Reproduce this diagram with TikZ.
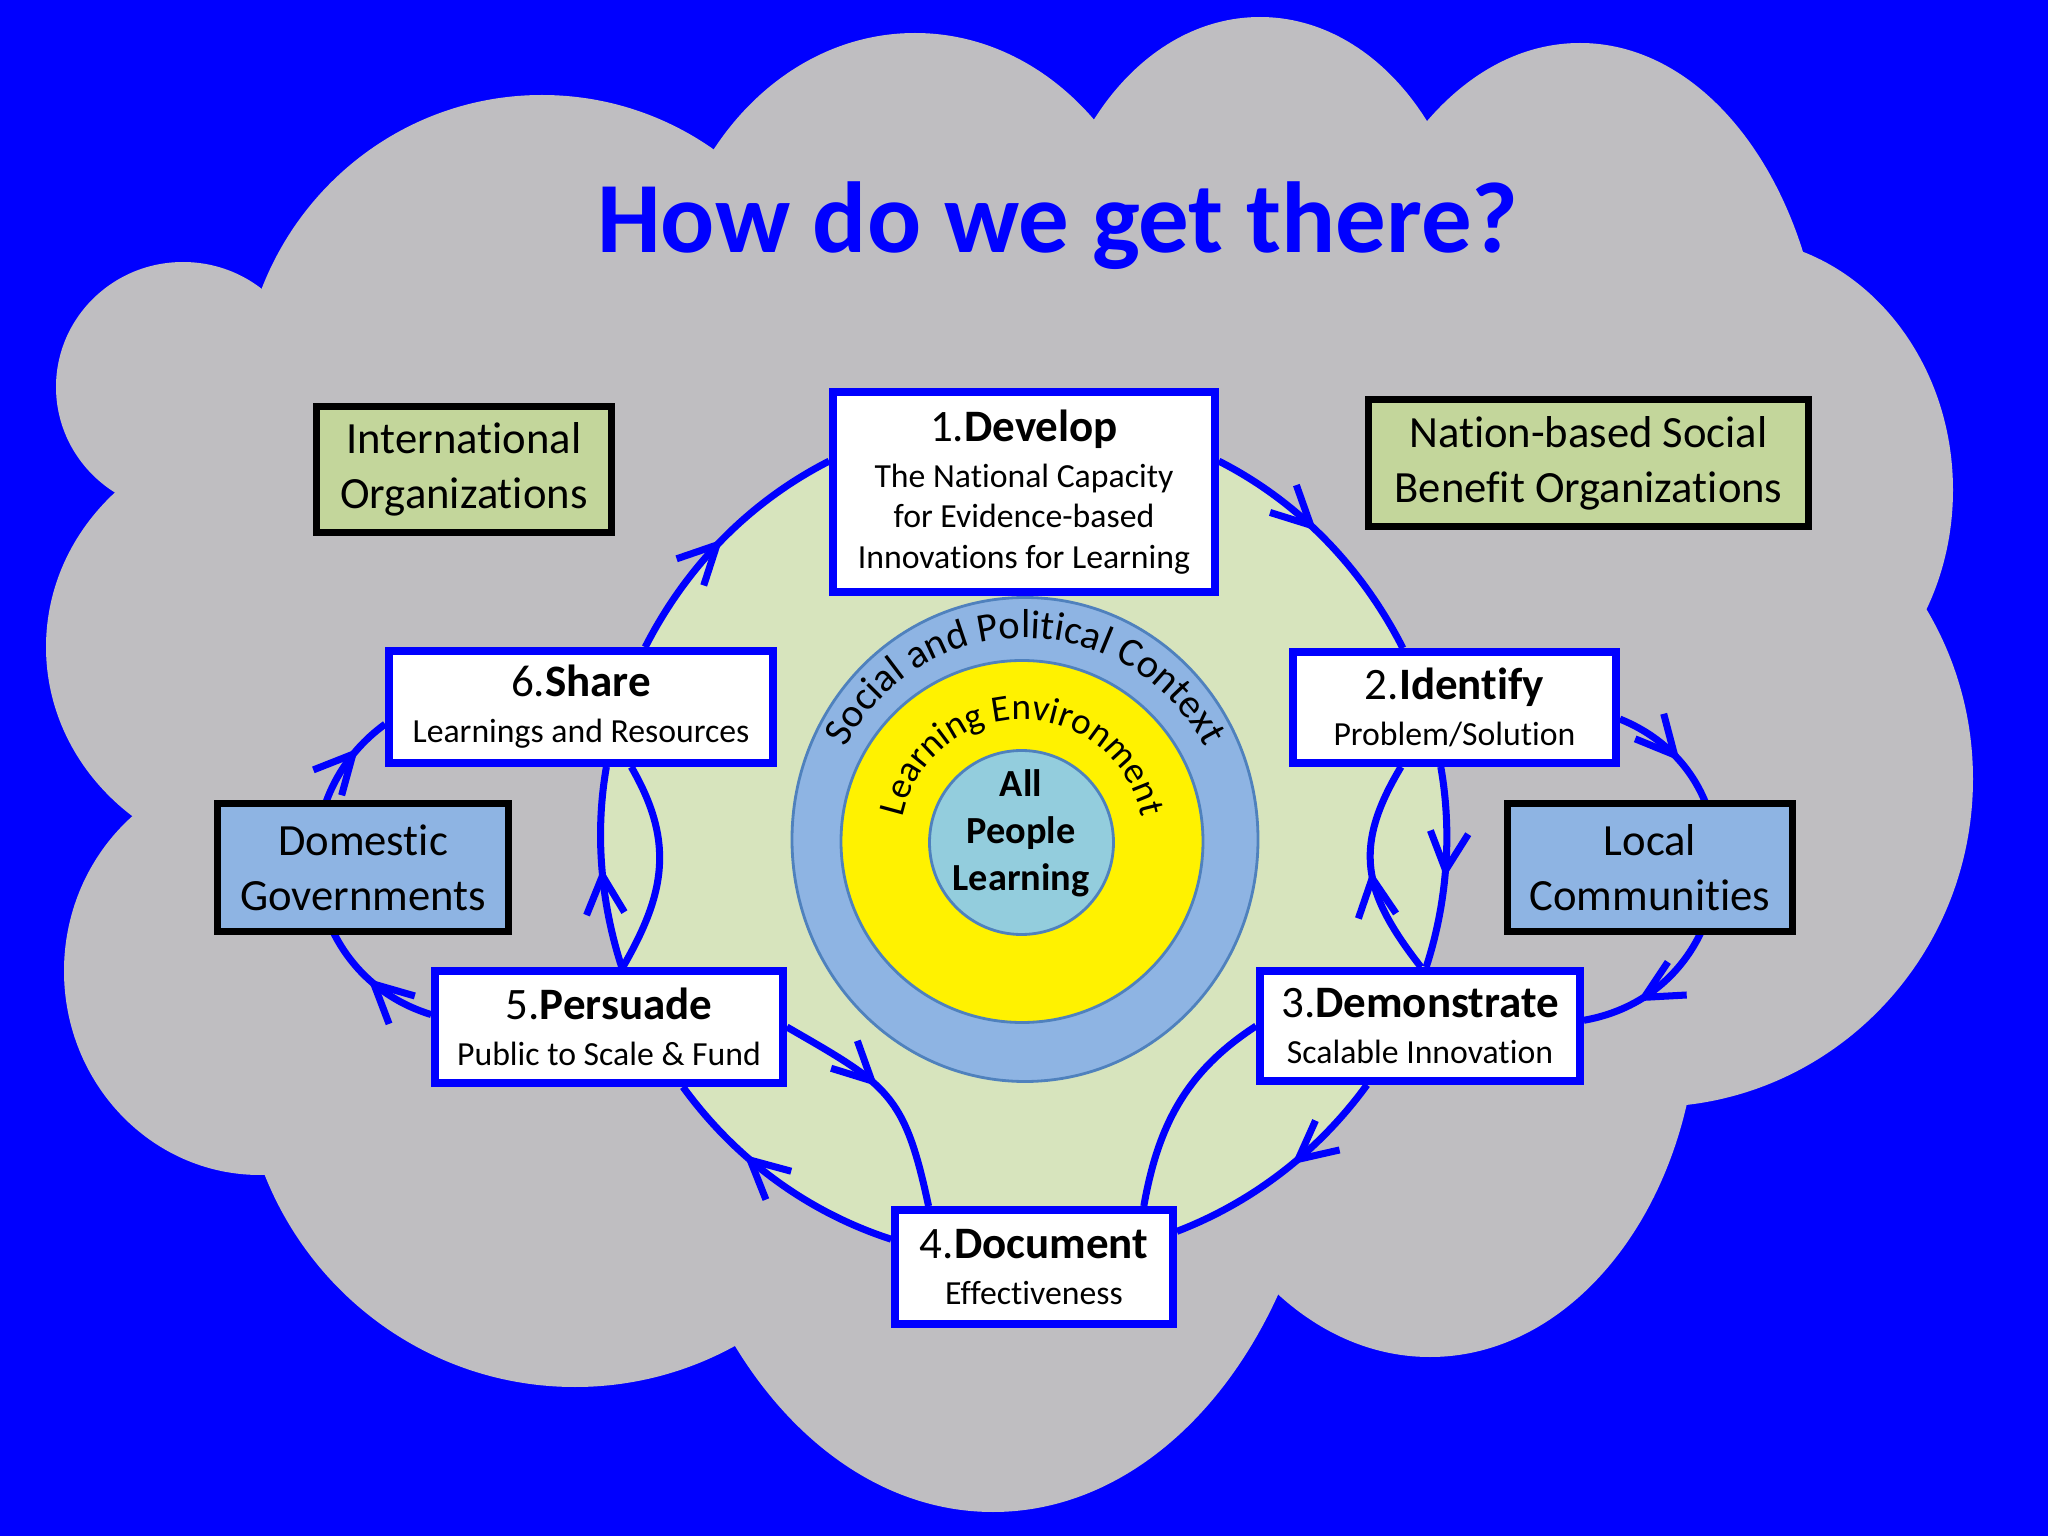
\documentclass[tikz,border=0pt]{standalone}
\usepackage{fontspec}
\setmainfont{Carlito}[Ligatures=NoCommon]
\usetikzlibrary{arrows.meta, decorations.markings, decorations.text}
\definecolor{sky}{HTML}{0000FF}
\definecolor{cloudgray}{HTML}{BFBEC1}
\definecolor{sage}{HTML}{D7E4BD}
\definecolor{ringblue}{HTML}{8EB4E3}
\definecolor{ringedge}{HTML}{4F81BD}
\definecolor{corecyan}{HTML}{93CDDD}
\definecolor{orggreen}{HTML}{C3D69B}
\newcommand{\stephead}[2]{{\fontsize{12.8}{11.5}\selectfont #1.\textbf{#2}}\\[1.6pt]}
\pgfdeclarelayer{back}
\pgfdeclarelayer{links}
\pgfsetlayers{back,links,main}

\begin{document}
\begin{tikzpicture}[
  flow/.style={draw=sky, line width=2pt},
  tip at/.style={postaction={decorate, decoration={markings,
      mark=at position #1 with {\arrow{Straight Barb[length=3.8mm, width=3.8mm, line width=2pt, color=sky]}}}}},
  stepbox/.style={draw=sky, line width=2.2pt, fill=white, align=center,
                  inner sep=2pt, font=\fontsize{9.6}{11.5}\selectfont},
  orgbox/.style={draw=black, line width=2pt, align=center, inner sep=2pt,
                 font=\fontsize{12.7}{15.6}\selectfont},
  puff/.style={fill=cloudgray}
]
\useasboundingbox (0,0) rectangle (20.48,-15.36);

\begin{pgfonlayer}{back}
% --- sky and cloud ---
\fill[sky] (0,0) rectangle (20.48,-15.36);
\fill[puff] (10.2,-7.5) ellipse [x radius=8, y radius=5.2];
\fill[puff] (1.83,-3.87) ellipse [x radius=1.27, y radius=1.25];
\fill[puff] (5.42,-4.0) ellipse [x radius=3.01, y radius=3.05];
\fill[puff] (9.15,-3.3) ellipse [x radius=2.535, y radius=2.97];
\fill[puff] (12.6,-3.0) ellipse [x radius=2.155, y radius=2.83];
\fill[puff] (15.8,-4.0) ellipse [x radius=2.45, y radius=3.57];
\fill[puff] (17.3,-4.9) ellipse [x radius=2.23, y radius=2.52];
\fill[puff] (16.5,-7.79) ellipse [x radius=3.23, y radius=3.28];
\fill[puff] (14.3,-10.0) ellipse [x radius=2.684, y radius=3.57];
\fill[puff] (9.93,-10.5) ellipse [x radius=3.36, y radius=4.62];
\fill[puff] (5.75,-10.5) ellipse [x radius=3.34, y radius=3.37];
\fill[puff] (2.6,-9.71) ellipse [x radius=1.96, y radius=2.04];
\fill[puff] (2.8,-6.47) ellipse [x radius=2.34, y radius=2.18];

% --- learning cycle and rings ---
\fill[sage] (10.24,-8.37) circle (4.23);
\filldraw[fill=ringblue, draw=ringedge, line width=0.8pt] (10.25,-8.395) ellipse [x radius=2.33, y radius=2.42];
\filldraw[fill=yellow, draw=ringedge, line width=0.8pt] (10.22,-8.415) circle (1.81);
\filldraw[fill=corecyan, draw=ringedge, line width=0.8pt] (10.215,-8.425) circle (0.92);
\path[decorate, decoration={text along path, text align=center,
    text={|\fontsize{11.5}{14}\selectfont|Social and Political Context}}]
  (10.25,-8.40) ++(180:2.02) arc[start angle=180, end angle=0, radius=2.02];
\path[decorate, decoration={text along path, text align=center,
    text={|\fontsize{10.6}{12}\selectfont|Learning Environment}}]
  (10.22,-8.415) ++(180:1.22) arc[start angle=180, end angle=0, radius=1.22];
\end{pgfonlayer}

\node[font=\fontsize{28.7}{34}\selectfont\bfseries, text=sky, anchor=base] (title) at (10.58,-2.53) {How do we get there?};
\node[font=\fontsize{10.9}{13.4}\selectfont\bfseries, align=center] (core) at (10.21,-8.33) {All\\ People\\ Learning};

% --- steps ---
\node[stepbox, minimum width=3.82cm, minimum height=2.0cm] (develop) at (10.24,-4.92)
  {\stephead{1}{Develop} The National Capacity\\ for Evidence-based\\ Innovations for Learning};
\node[stepbox, minimum width=3.23cm, minimum height=1.11cm] (identify) at (14.545,-7.075)
  {\stephead{2}{Identify} Problem/Solution};
\node[stepbox, minimum width=3.2cm, minimum height=1.1cm] (demonstrate) at (14.2,-10.26)
  {\stephead{3}{Demonstrate} Scalable Innovation};
\node[stepbox, minimum width=2.78cm, minimum height=1.14cm] (document) at (10.34,-12.67)
  {\stephead{4}{Document} Effectiveness};
\node[stepbox, minimum width=3.48cm, minimum height=1.12cm] (persuade) at (6.09,-10.27)
  {\stephead{5}{Persuade} Public to Scale \& Fund};
\node[stepbox, minimum width=3.84cm, minimum height=1.12cm] (share) at (5.81,-7.07)
  {\stephead{6}{Share} Learnings and Resources};

% --- actors ---
\node[orgbox, fill=orggreen, minimum width=2.95cm, minimum height=1.26cm] (intl) at (4.64,-4.695)
  {International\\ Organizations};
\node[orgbox, fill=orggreen, minimum width=4.4cm, minimum height=1.27cm] (nation) at (15.885,-4.63)
  {Nation-based Social\\ Benefit Organizations};
\node[orgbox, fill=ringblue, minimum width=2.91cm, minimum height=1.28cm] (domestic) at (3.63,-8.675)
  {Domestic\\ Governments};
\node[orgbox, fill=ringblue, minimum width=2.85cm, minimum height=1.28cm] (local) at (16.5,-8.675)
  {Local\\ Communities};

\begin{pgfonlayer}{links}
% big loop, clockwise
\draw[flow, tip at=0.5]  (share.43) to[out=63, in=207, looseness=0.88] (develop.171);
\draw[flow, tip at=0.45] (develop.9) to[out=-27, in=117, looseness=0.88] (identify.131);
\draw[flow, tip at=0.55] (identify.257) to[out=-80, in=72, looseness=0.86] (demonstrate.84);
\draw[flow, tip at=0.45] (demonstrate.228) to[out=-126, in=21, looseness=0.87] (document.14);
\draw[flow, tip at=0.65] (document.169) to[out=162, in=306, looseness=0.88] (persuade.321);
\draw[flow, tip at=0.5]  (persuade.78) to[out=108, in=260, looseness=0.86] (share.293);
% inner shortcuts
\draw[flow, tip at=0.5] (demonstrate.89) to[out=128, in=239, looseness=1.2] (identify.228);
\draw[flow] (share.310) to[out=-60, in=60, looseness=1.1] (persuade.77);
\draw[flow, tip at=0.45] (persuade.east) to[out=-30, in=102, looseness=1.3] (document.150);
\draw[flow] (document.29) to[out=80, in=213] (demonstrate.west);
% outer loops
\draw[flow, tip at=0.2, tip at=0.9] (persuade.176) to[out=163, in=216, looseness=1.18] (share.185);
\draw[flow, tip at=0.18, tip at=0.86] (identify.-4) to[out=-22, in=10, looseness=1.34] (demonstrate.2);
\end{pgfonlayer}
\end{tikzpicture}
\end{document}
